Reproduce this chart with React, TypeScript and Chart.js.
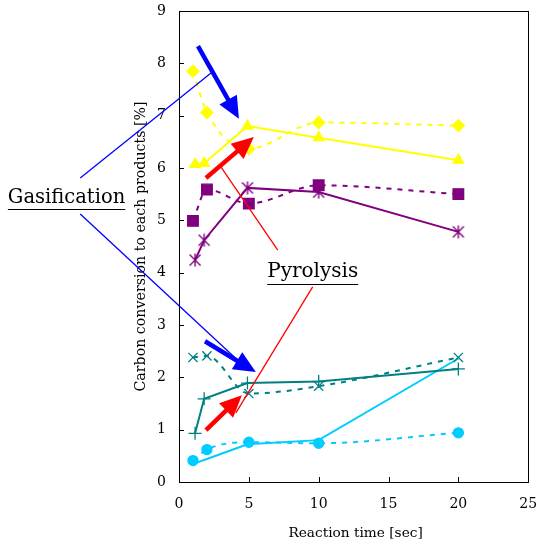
import { useEffect, useRef } from 'react';
import { Chart, registerables } from 'chart.js';

Chart.register(...registerables);

// Reaction times [sec]
const timesGas = [1, 2, 5, 10, 20];
const timesPyro = [1.15, 1.8, 4.9, 10, 20];

// Carbon conversion [%]
const yellowGas = [7.85, 7.06, 6.37, 6.87, 6.81];
const yellowPyro = [6.07, 6.09, 6.8, 6.58, 6.15];
const purpleGas = [4.99, 5.59, 5.32, 5.67, 5.5];
const purplePyro = [4.24, 4.62, 5.62, 5.54, 4.78];
const tealGas = [2.38, 2.41, 1.69, 1.83, 2.38];
const tealPyro = [0.93, 1.59, 1.89, 1.92, 2.16];
const cyanGas = [0.41, 0.62, 0.76, 0.74, 0.94];
const cyanPyro = [0.36, 0.42, 0.72, 0.8, 2.36];

const xTickValues = [0, 5, 10, 15, 20, 25];
const yTickValues = [0, 1, 2, 3, 4, 5, 6, 7, 8, 9];

const xTitle = 'Reaction time [sec]';
const yTitle = 'Carbon conversion to each products [%]';
const gasLabel = 'Gasification';
const pyroLabel = 'Pyrolysis';

const FONT = '"DejaVu Serif", serif';
const YELLOW = '#FFFF00';
const PURPLE = '#800080';
const TEAL = '#008080';
const CYAN = '#00CCFF';
const BLUE = '#0000FF';
const RED = '#FF0000';

function asteriskImage(color: string) {
  const c = document.createElement('canvas');
  c.width = 14;
  c.height = 14;
  const g = c.getContext('2d') as CanvasRenderingContext2D;
  g.strokeStyle = color;
  g.lineWidth = 1.4;
  g.beginPath();
  g.moveTo(7, 0.5);
  g.lineTo(7, 13.5);
  g.moveTo(1.5, 1.5);
  g.lineTo(12.5, 12.5);
  g.moveTo(12.5, 1.5);
  g.lineTo(1.5, 12.5);
  g.stroke();
  return c;
}

function series(label: string, xs: number[], ys: number[], color: string, style: any, radius: number, dashed: boolean) {
  return {
    label,
    data: xs.map((x, i) => ({ x, y: ys[i] })),
    showLine: true,
    borderColor: color,
    backgroundColor: color,
    borderWidth: 2,
    borderDash: dashed ? [5, 6] : [],
    cubicInterpolationMode: dashed ? 'monotone' : 'default',
    tension: dashed ? 0.4 : 0,
    pointStyle: style,
    pointRadius: radius,
    pointBorderColor: color,
    pointBackgroundColor: color,
    pointBorderWidth: 1.3,
  };
}

function thickArrow(ctx: CanvasRenderingContext2D, x1: number, y1: number, x2: number, y2: number, color: string) {
  const dx = x2 - x1, dy = y2 - y1;
  const len = Math.hypot(dx, dy);
  const ux = dx / len, uy = dy / len;
  const headLen = 22, headHalf = 10;
  const bx = x2 - ux * headLen, by = y2 - uy * headLen;
  ctx.save();
  ctx.strokeStyle = color;
  ctx.fillStyle = color;
  ctx.lineWidth = 4.5;
  ctx.setLineDash([]);
  ctx.beginPath();
  ctx.moveTo(x1, y1);
  ctx.lineTo(bx + ux * 2, by + uy * 2);
  ctx.stroke();
  ctx.beginPath();
  ctx.moveTo(x2, y2);
  ctx.lineTo(bx - uy * headHalf, by + ux * headHalf);
  ctx.lineTo(bx + uy * headHalf, by - ux * headHalf);
  ctx.closePath();
  ctx.fill();
  ctx.restore();
}

function thinLine(ctx: CanvasRenderingContext2D, x1: number, y1: number, x2: number, y2: number, color: string) {
  ctx.save();
  ctx.strokeStyle = color;
  ctx.lineWidth = 1.3;
  ctx.setLineDash([]);
  ctx.beginPath();
  ctx.moveTo(x1, y1);
  ctx.lineTo(x2, y2);
  ctx.stroke();
  ctx.restore();
}

function underlinedText(ctx: CanvasRenderingContext2D, text: string, cx: number, cy: number, size: number) {
  ctx.save();
  ctx.font = `${size}px ${FONT}`;
  ctx.fillStyle = '#000';
  ctx.textAlign = 'center';
  ctx.textBaseline = 'middle';
  ctx.fillText(text, cx, cy);
  const w = ctx.measureText(text).width;
  ctx.strokeStyle = '#000';
  ctx.lineWidth = 1.2;
  ctx.beginPath();
  const uy = Math.round(cy + size * 0.58) + 0.5;
  ctx.moveTo(cx - w / 2, uy);
  ctx.lineTo(cx + w / 2, uy);
  ctx.stroke();
  ctx.restore();
}

const framePlugin = {
  id: 'frame',
  afterDatasetsDraw(chart: any) {
    const ctx: CanvasRenderingContext2D = chart.ctx;
    const { left, right, top, bottom } = chart.chartArea;
    const xs = chart.scales.x, ys = chart.scales.y;
    const X = (v: number) => xs.getPixelForValue(v);
    const Y = (v: number) => ys.getPixelForValue(v);

    // frame
    ctx.save();
    ctx.strokeStyle = '#000';
    ctx.lineWidth = 1;
    ctx.setLineDash([]);
    ctx.strokeRect(Math.round(left) + 0.5, Math.round(top) + 0.5, Math.round(right - left), Math.round(bottom - top));
    // inward ticks
    ctx.beginPath();
    yTickValues.forEach((v) => {
      const y = Math.round(Y(v)) + 0.5;
      ctx.moveTo(left, y);
      ctx.lineTo(left + 5, y);
    });
    xTickValues.forEach((v) => {
      const x = Math.round(X(v)) + 0.5;
      ctx.moveTo(x, bottom);
      ctx.lineTo(x, bottom - 5);
    });
    ctx.stroke();

    // axis titles
    ctx.fillStyle = '#000';
    ctx.textAlign = 'center';
    ctx.textBaseline = 'middle';
    ctx.font = `13.7px ${FONT}`;
    ctx.fillText(xTitle, (left + right) / 2 + 2, bottom + 51);
    ctx.font = `14.2px ${FONT}`;
    ctx.save();
    ctx.translate(left - 38, (top + bottom) / 2);
    ctx.rotate(-Math.PI / 2);
    ctx.fillText(yTitle, 0, 0);
    ctx.restore();
    ctx.restore();

    // annotations (in data units)
    thinLine(ctx, X(-7.07), Y(5.81), X(2.36), Y(7.83), BLUE);
    thinLine(ctx, X(-7.07), Y(5.12), X(4.36), Y(2.29), BLUE);
    thickArrow(ctx, X(1.36), Y(8.33), X(4.29), Y(6.94), BLUE);
    thickArrow(ctx, X(1.86), Y(2.69), X(5.5), Y(2.1), BLUE);
    thinLine(ctx, X(3.0), Y(6.02), X(7.07), Y(4.43), RED);
    thinLine(ctx, X(9.57), Y(3.73), X(4.07), Y(1.32), RED);
    thickArrow(ctx, X(1.93), Y(5.81), X(5.36), Y(6.59), RED);
    thickArrow(ctx, X(1.93), Y(0.99), X(4.5), Y(1.66), RED);

    underlinedText(ctx, gasLabel, X(-8.05), Y(5.43), 19.5);
    underlinedText(ctx, pyroLabel, X(9.57), Y(4.01), 20);
  },
};

export default function App() {
  const ref = useRef<HTMLCanvasElement | null>(null);
  useEffect(() => {
    if (!ref.current) return;
    const chart = new Chart(ref.current, {
      type: 'scatter',
      data: {
        datasets: [
          series('Gas yellow', timesGas, yellowGas, YELLOW, 'rectRot', 6, true),
          series('Pyro yellow', timesPyro, yellowPyro, YELLOW, 'triangle', 6, false),
          series('Gas purple', timesGas, purpleGas, PURPLE, 'rect', 7.5, true),
          series('Pyro purple', timesPyro, purplePyro, PURPLE, asteriskImage(PURPLE), 7, false),
          series('Gas teal', timesGas, tealGas, TEAL, 'crossRot', 6.5, true),
          series('Pyro teal', timesPyro, tealPyro, TEAL, 'cross', 6.5, false),
          series('Gas cyan', timesGas, cyanGas, CYAN, 'circle', 5, true),
          series('Pyro cyan', timesPyro, cyanPyro, CYAN, 'circle', 0, false),
        ] as any,
      },
      options: {
        animation: false,
        responsive: false,
        layout: { padding: { left: 0, top: 11, right: 8, bottom: 0 } },
        plugins: { legend: { display: false }, tooltip: { enabled: false } },
        scales: {
          x: {
            type: 'linear',
            min: 0,
            max: 25,
            afterBuildTicks: (s: any) => { s.ticks = xTickValues.map((v) => ({ value: v })); },
            ticks: { color: '#000', font: { family: FONT, size: 14 }, padding: 14, maxRotation: 0 },
            grid: { display: false, drawTicks: false },
            border: { display: false },
            afterFit: (s: any) => { s.height = 65; s.paddingLeft = 0; s.paddingRight = 0; },
          },
          y: {
            type: 'linear',
            min: 0,
            max: 9,
            afterBuildTicks: (s: any) => { s.ticks = yTickValues.map((v) => ({ value: v })); },
            ticks: { color: '#000', font: { family: FONT, size: 14 }, padding: 13 },
            grid: { display: false, drawTicks: false },
            border: { display: false },
            afterFit: (s: any) => { s.width = 179; s.paddingTop = 0; s.paddingBottom = 0; },
          },
        },
      } as any,
      plugins: [framePlugin],
    });
    return () => chart.destroy();
  }, []);
  return (
    <div style={{ position: 'absolute', left: 0, top: 0, width: 537, height: 547, background: '#fff' }}>
      <canvas ref={ref} width={537} height={547} />
    </div>
  );
}
